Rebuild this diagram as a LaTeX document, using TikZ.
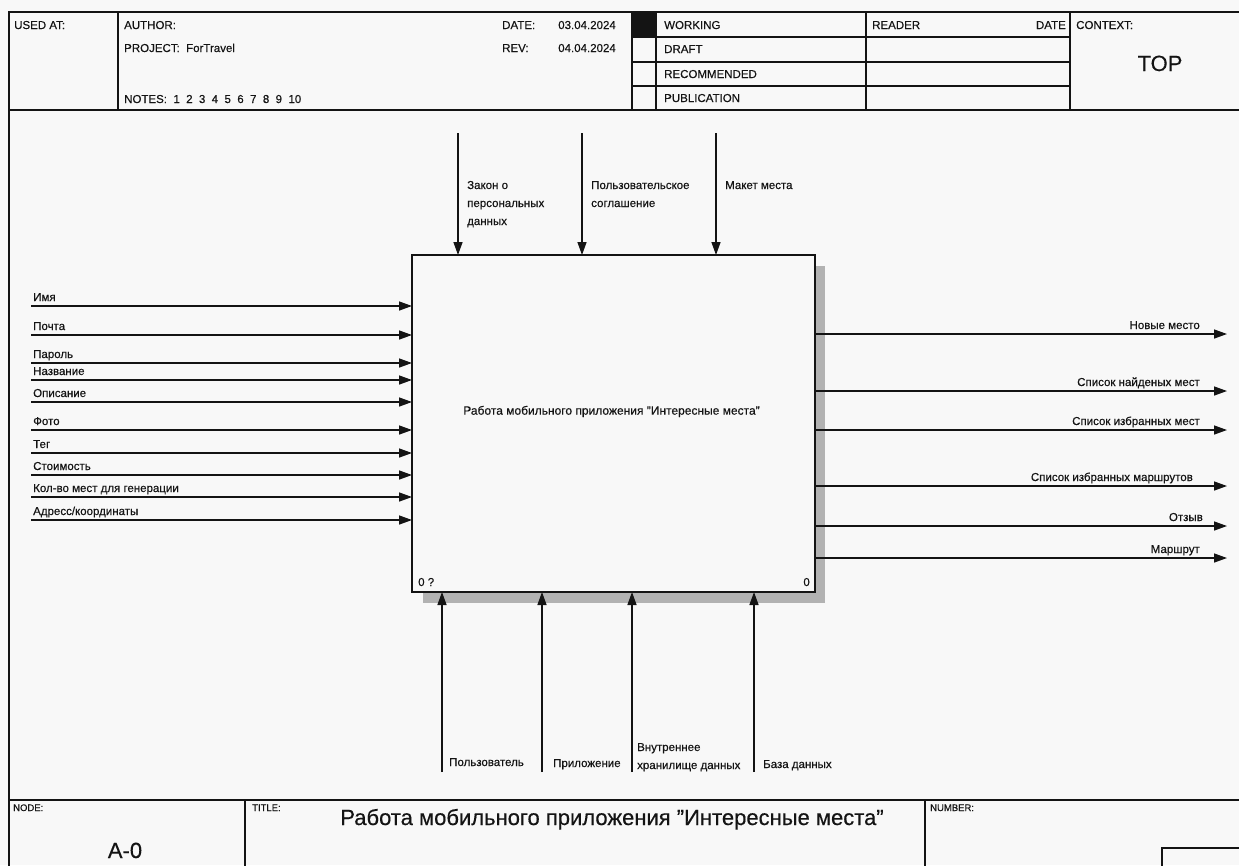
\documentclass[tikz,border=0pt]{standalone}
\usepackage{fontspec}
\setmainfont{Liberation Sans}[FakeBold=0.4]
\usetikzlibrary{arrows.meta}
\definecolor{bgc}{RGB}{248,248,248}
\definecolor{ink}{RGB}{20,20,20}
\begin{document}
\begin{tikzpicture}[x=1pt,y=-1pt,
  font=\fontsize{11.5}{13}\selectfont,
  frame/.style={line width=1.8pt, draw=ink, line cap=rect},
  flow/.style={line width=1.4pt, draw=ink, -{Triangle[length=13pt,width=9pt]}},
  lbl/.style={anchor=base west, inner sep=0pt, text=ink},
  lblr/.style={anchor=base east, inner sep=0pt, text=ink},
  dia/.style={font=\fontsize{11.5}{13}\selectfont},
  small/.style={font=\fontsize{9.5}{11}\selectfont},
  big/.style={font=\fontsize{22}{24}\selectfont}]
\useasboundingbox[fill=bgc] (0,0) rectangle (1239,865);
% ---------- frame ----------
\draw[frame] (9,865) -- (9,12) -- (1239,12);
\draw[frame] (9,110) -- (1239,110);
\draw[frame] (9,800) -- (1239,800);
\foreach \x in {118,632,656,866,1070} \draw[frame] (\x,12) -- (\x,110);
\foreach \y in {37,62,86} \draw[frame] (632,\y) -- (1070,\y);
\fill[ink] (632,12) rectangle (656,37);
\draw[frame] (245,800) -- (245,865);
\draw[frame] (925,800) -- (925,865);
\draw[frame] (1162,865) -- (1162,848) -- (1239,848);
% ---------- header text ----------
\node[lbl] (usedat) at (14,29) {USED AT:};
\node[lbl] (author) at (124,29) {AUTHOR:};
\node[lbl] (project) at (124,52) {PROJECT:\ \ ForTravel};
\node[lbl] (notes) at (124,103) {NOTES:\ \ 1\ \ 2\ \ 3\ \ 4\ \ 5\ \ 6\ \ 7\ \ 8\ \ 9\ \ 10};
\node[lbl] (datel) at (502,29) {DATE:};
\node[lblr] (datev) at (616,29) {03.04.2024};
\node[lbl] (revl) at (502,52) {REV:};
\node[lblr] (revv) at (616,52) {04.04.2024};
\node[lbl] (working) at (664,29) {WORKING};
\node[lbl] (draft) at (664,53) {DRAFT};
\node[lbl] (recom) at (664,78) {RECOMMENDED};
\node[lbl] (publ) at (664,102) {PUBLICATION};
\node[lbl] (reader) at (872,29) {READER};
\node[lblr] (rdate) at (1066,29) {DATE};
\node[lbl] (context) at (1076,29) {CONTEXT:};
\node[lbl, big, anchor=base] (top) at (1160,71) {TOP};
% ---------- main box ----------
\fill[gray!60] (423,266) rectangle (825,603);
\node[draw=ink, line width=2.2pt, fill=bgc, minimum width=403pt, minimum height=337pt,
      inner sep=0pt, outer sep=0pt] (box) at (613.5,423.5) {};
\node[inner sep=0pt, text=ink, font=\fontsize{12}{14}\selectfont] (boxlabel) at ([xshift=-2pt,yshift=12pt]box.center) {Работа мобильного приложения \symbol{34}Интересные места\symbol{34}};
\node[lbl, dia] (boxnum) at (418,586) {0 ?};
\node[lblr, dia] (boxnr) at (810,586) {0};
% ---------- inputs ----------
\foreach \y/\t [count=\i] in {306/Имя,335/Почта,363/Пароль,380/Название,402/Описание,
    430/Фото,453/Тег,475/Стоимость,497/Кол-во мест для генерации,520/Адресс\slash координаты}{
  \coordinate (in\i) at (31,\y);
  \draw[flow] (in\i) -- (in\i -| box.west);
  \path (in\i) ++(2,-5) node[lbl, dia] (inl\i) {\t};
}
% ---------- outputs ----------
\foreach \y/\e/\t [count=\i] in {334/1200/Новые место,391/1200/Список найденых мест,
    430/1200/Список избранных мест,486/1193/Список избранных маршрутов,
    526/1203/Отзыв,558/1200/Маршрут}{
  \coordinate (out\i) at (1227,\y);
  \draw[flow] (out\i -| box.east) -- (out\i);
  \node[lblr, dia] (outl\i) at (\e,\y-5) {\t};
}
% ---------- controls ----------
\foreach \x [count=\i] in {458,582,716}{
  \coordinate (c\i) at (\x,133);
  \draw[flow] (c\i) -- (c\i |- box.north);
}
\node[lbl, dia] (c1a) at (467,189) {Закон о};
\node[lbl, dia] (c1b) at (467,207) {персональных};
\node[lbl, dia] (c1c) at (467,225) {данных};
\node[lbl, dia] (c2a) at (591,189) {Пользовательское};
\node[lbl, dia] (c2b) at (591,207) {соглашение};
\node[lbl, dia] (c3a) at (725,189) {Макет места};
% ---------- mechanisms ----------
\foreach \x [count=\i] in {442,542,632,754}{
  \coordinate (m\i) at (\x,772);
  \draw[flow] (m\i) -- (m\i |- box.south);
}
\node[lbl, dia] (m1l) at (449,766) {Пользователь};
\node[lbl, dia] (m2l) at (553,767) {Приложение};
\node[lbl, dia] (m3a) at (637,751) {Внутреннее};
\node[lbl, dia] (m3b) at (637,769) {хранилище данных};
\node[lbl, dia] (m4l) at (763,768) {База данных};
% ---------- footer ----------
\node[lbl, small] (nodel) at (13,811) {NODE:};
\node[lbl, small] (titlel) at (252,811) {TITLE:};
\node[lbl, small] (numberl) at (930,811) {NUMBER:};
\node[lbl, big, anchor=base] (nodev) at (125,858) {A-0};
\node[lbl, big, anchor=base] (titlev) at (612,825) {Работа мобильного приложения \symbol{34}Интересные места\symbol{34}};
\end{tikzpicture}
\end{document}
